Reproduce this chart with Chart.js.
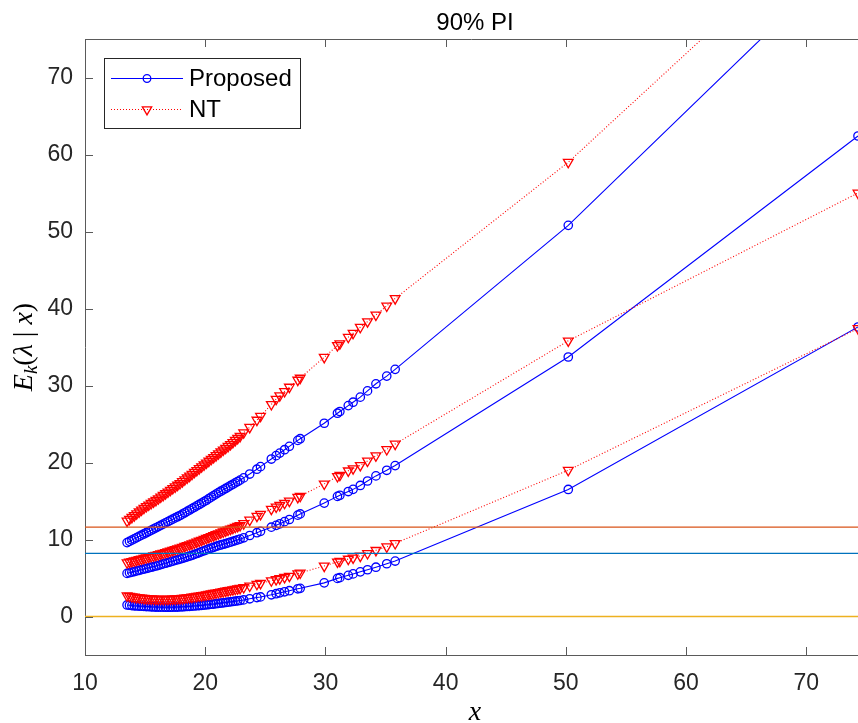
<!doctype html>
<html>
<head>
<meta charset="utf-8" />
<title>90% PI</title>
<script src="https://cdn.jsdelivr.net/npm/chart.js"></script>
<style>
  html, body { margin: 0; padding: 0; background: #fff; }
  canvas { display: block; }
</style>
</head>
<body>
<canvas id="chart" width="858" height="723"></canvas>
<script>
// x positions shared by all six curves
const xValues = [
  13.5, 13.7, 13.9, 14.1, 14.3, 14.5, 14.7, 14.9, 15.1, 15.3, 15.5, 15.7, 15.9, 16.1, 16.3, 16.5,
  16.7, 16.9, 17.1, 17.3, 17.5, 17.7, 17.9, 18.1, 18.3, 18.5, 18.7, 18.9, 19.1, 19.3, 19.5, 19.7,
  19.9, 20.1, 20.3, 20.5, 20.7, 20.9, 21.1, 21.3, 21.5, 21.7, 21.9, 22.1, 22.3, 22.5, 22.7, 22.9,
  23.2, 23.7, 24.3, 24.6, 25.5, 25.9, 26.2, 26.6, 27.0, 27.7, 27.9, 29.9, 31.0, 31.2, 31.9, 32.3,
  32.9, 33.5, 34.2, 35.1, 35.8, 50.2, 74.3
];

// Proposed (blue, solid, circles)
const proposedLow = [
  1.50, 1.46, 1.42, 1.39, 1.37, 1.35, 1.33, 1.31, 1.29, 1.28, 1.26, 1.24, 1.23, 1.22, 1.21, 1.21,
  1.20, 1.20, 1.20, 1.21, 1.22, 1.23, 1.25, 1.26, 1.28, 1.30, 1.32, 1.34, 1.37, 1.40, 1.42, 1.45,
  1.48, 1.52, 1.55, 1.59, 1.62, 1.66, 1.70, 1.74, 1.78, 1.82, 1.86, 1.90, 1.95, 1.99, 2.03, 2.08,
  2.15, 2.30, 2.46, 2.54, 2.82, 2.96, 3.07, 3.21, 3.35, 3.60, 3.66, 4.37, 4.95, 5.04, 5.35, 5.53,
  5.80, 6.07, 6.40, 6.85, 7.20, 16.5, 37.6
];
const proposedMid = [
  5.60, 5.68, 5.76, 5.84, 5.92, 6.00, 6.08, 6.16, 6.24, 6.32, 6.40, 6.48, 6.56, 6.65, 6.74, 6.83,
  6.92, 7.01, 7.10, 7.19, 7.28, 7.37, 7.46, 7.55, 7.65, 7.75, 7.85, 7.95, 8.06, 8.18, 8.30, 8.42,
  8.54, 8.66, 8.77, 8.88, 8.99, 9.10, 9.20, 9.29, 9.38, 9.47, 9.56, 9.65, 9.75, 9.85, 9.95, 10.05,
  10.22, 10.52, 10.88, 11.06, 11.60, 11.84, 12.04, 12.32, 12.60, 13.16, 13.32, 14.73, 15.60, 15.74, 16.23, 16.51,
  17.02, 17.60, 18.26, 18.99, 19.60, 33.7, 62.4
];
const proposedHigh = [
  9.60, 9.76, 9.92, 10.08, 10.24, 10.40, 10.56, 10.72, 10.88, 11.04, 11.20, 11.36, 11.52, 11.68, 11.84, 12.00,
  12.16, 12.32, 12.48, 12.64, 12.80, 12.96, 13.12, 13.29, 13.47, 13.65, 13.83, 14.01, 14.19, 14.37, 14.55, 14.73,
  14.91, 15.10, 15.30, 15.50, 15.70, 15.90, 16.09, 16.27, 16.45, 16.63, 16.81, 16.99, 17.17, 17.35, 17.53, 17.71,
  18.00, 18.50, 19.13, 19.46, 20.45, 20.89, 21.22, 21.66, 22.10, 22.87, 23.09, 25.10, 26.40, 26.62, 27.39, 27.83,
  28.49, 29.30, 30.22, 31.22, 32.10, 50.8, 87.2
];

// NT (red, dotted, down triangles)
const ntLow = [
  2.70, 2.64, 2.58, 2.53, 2.49, 2.45, 2.41, 2.37, 2.34, 2.32, 2.30, 2.28, 2.26, 2.25, 2.25, 2.25,
  2.25, 2.25, 2.26, 2.28, 2.30, 2.32, 2.34, 2.37, 2.41, 2.45, 2.49, 2.53, 2.58, 2.63, 2.68, 2.73,
  2.78, 2.83, 2.89, 2.95, 3.01, 3.07, 3.13, 3.19, 3.25, 3.31, 3.37, 3.43, 3.49, 3.55, 3.61, 3.67,
  3.78, 3.98, 4.20, 4.31, 4.65, 4.81, 4.93, 5.09, 5.25, 5.57, 5.66, 6.56, 7.10, 7.18, 7.46, 7.62,
  7.86, 8.20, 8.60, 9.06, 9.50, 19.0, 37.4
];
const ntMid = [
  7.00, 7.08, 7.16, 7.24, 7.32, 7.40, 7.48, 7.56, 7.64, 7.72, 7.80, 7.88, 7.96, 8.05, 8.14, 8.23,
  8.32, 8.41, 8.50, 8.60, 8.70, 8.80, 8.90, 9.01, 9.12, 9.23, 9.34, 9.45, 9.56, 9.68, 9.80, 9.92,
  10.04, 10.16, 10.28, 10.40, 10.52, 10.64, 10.76, 10.88, 11.00, 11.12, 11.24, 11.36, 11.48, 11.60, 11.72, 11.84,
  12.08, 12.53, 13.04, 13.28, 13.95, 14.23, 14.44, 14.72, 15.00, 15.49, 15.63, 17.22, 18.20, 18.36, 18.92, 19.21,
  19.63, 20.20, 20.88, 21.70, 22.40, 35.8, 55.0
];
const ntHigh = [
  12.40, 12.64, 12.88, 13.12, 13.36, 13.60, 13.84, 14.08, 14.30, 14.50, 14.70, 14.90, 15.10, 15.31, 15.53, 15.75,
  15.97, 16.19, 16.41, 16.63, 16.85, 17.07, 17.29, 17.53, 17.77, 18.01, 18.25, 18.49, 18.74, 18.98, 19.22, 19.46,
  19.70, 19.95, 20.19, 20.43, 20.67, 20.91, 21.15, 21.39, 21.63, 21.87, 22.11, 22.36, 22.62, 22.88, 23.14, 23.40,
  23.88, 24.58, 25.51, 26.02, 27.55, 28.23, 28.68, 29.24, 29.80, 30.71, 30.97, 33.67, 35.20, 35.44, 36.28, 36.79,
  37.57, 38.30, 39.16, 40.34, 41.30, 59.0, 93.7
];

// horizontal reference levels
const refLevels = [11.6, 8.2, 0];

const seriesNames = ["Proposed", "NT"];
const titleText = "90% PI";
const xRange = [10, 74.3];
const yRange = [-5, 75];
const xTicks = [10, 20, 30, 40, 50, 60, 70];
const yTicks = [0, 10, 20, 30, 40, 50, 60, 70];

const BLUE = "#0000FF";
const RED = "#FF0000";
const AXIS = "#5a5a5a";
const refColors = ["#D95319", "#0072BD", "#EDB120"];

function pts(ys) {
  return xValues.map((x, i) => ({ x: x, y: ys[i] }));
}

function proposedSet(ys) {
  return {
    data: pts(ys),
    borderColor: BLUE,
    borderWidth: 1.1,
    pointStyle: "circle",
    pointRadius: 4.2,
    pointBorderWidth: 1.3,
    pointBorderColor: BLUE,
    pointBackgroundColor: "rgba(0,0,0,0)",
    tension: 0,
    order: 2,
  };
}

function ntSet(ys) {
  return {
    data: pts(ys),
    borderColor: RED,
    borderWidth: 1.1,
    borderDash: [1, 2],
    pointStyle: "triangle",
    pointRotation: 180,
    pointRadius: 5.6,
    pointBorderWidth: 1.3,
    pointBorderColor: RED,
    pointBackgroundColor: "rgba(0,0,0,0)",
    tension: 0,
    order: 1,
  };
}

const refSets = refLevels.map((v, i) => ({
  data: [{ x: xRange[0], y: v }, { x: xRange[1], y: v }],
  borderColor: refColors[i],
  borderWidth: 1.3,
  pointRadius: 0,
  order: 0,
}));

// MATLAB-ish frame: inward ticks, top box line, title, axis labels, legend box
const matlabFrame = {
  id: "matlabFrame",
  afterDatasetsDraw(chart) {
    const { ctx, chartArea: a, scales } = chart;
    ctx.save();
    ctx.strokeStyle = AXIS;
    ctx.lineWidth = 1;
    ctx.beginPath();
    ctx.moveTo(a.left, a.top + 0.5);
    ctx.lineTo(a.right, a.top + 0.5);
    xTicks.forEach((v) => {
      const px = Math.round(scales.x.getPixelForValue(v)) + 0.5;
      ctx.moveTo(px, a.bottom);
      ctx.lineTo(px, a.bottom - 8);
      ctx.moveTo(px, a.top);
      ctx.lineTo(px, a.top + 8);
    });
    yTicks.forEach((v) => {
      const py = Math.round(scales.y.getPixelForValue(v)) + 0.5;
      ctx.moveTo(a.left, py);
      ctx.lineTo(a.left + 8, py);
    });
    ctx.stroke();
    ctx.restore();
  },
  afterDraw(chart) {
    const { ctx, chartArea: a } = chart;
    const cx = 475;
    ctx.save();

    // title
    ctx.fillStyle = "#000";
    ctx.font = '24px "Liberation Sans", Arial, sans-serif';
    ctx.textAlign = "center";
    ctx.textBaseline = "alphabetic";
    ctx.fillText(titleText, cx, 30);

    // x label
    ctx.font = 'italic 28px "Liberation Serif", serif';
    ctx.fillText("x", cx, 720);

    // y label: E_k(λ | x), rotated
    const parts = [
      { t: "E", f: 'italic 28px "Liberation Serif", serif', dy: 0 },
      { t: "k", f: 'italic 19px "Liberation Serif", serif', dy: 5 },
      { t: "(", f: '28px "Liberation Serif", serif', dy: 0 },
      { t: "λ", f: 'italic 28px "Liberation Serif", serif', dy: 0 },
      { t: " | ", f: '28px "Liberation Serif", serif', dy: 0 },
      { t: "x", f: 'italic 28px "Liberation Serif", serif', dy: 0 },
      { t: ")", f: '28px "Liberation Serif", serif', dy: 0 },
    ];
    let total = 0;
    parts.forEach((p) => { ctx.font = p.f; p.w = ctx.measureText(p.t).width; total += p.w; });
    ctx.translate(32, (a.top + a.bottom) / 2);
    ctx.rotate(-Math.PI / 2);
    ctx.textAlign = "left";
    let px = -total / 2;
    parts.forEach((p) => { ctx.font = p.f; ctx.fillText(p.t, px, p.dy); px += p.w; });
    ctx.setTransform(1, 0, 0, 1, 0, 0);

    // legend
    const lx = 104, ly = 58, lw = 196, lh = 70;
    ctx.fillStyle = "#fff";
    ctx.fillRect(lx, ly, lw, lh);
    ctx.strokeStyle = "#262626";
    ctx.lineWidth = 1;
    ctx.strokeRect(lx + 0.5, ly + 0.5, lw, lh);
    const rows = [
      { label: seriesNames[0], color: BLUE, dash: [], style: "circle", r: 3.8, rot: 0, y: 78 },
      { label: seriesNames[1], color: RED, dash: [1, 2], style: "triangle", r: 5.4, rot: 180, y: 109 },
    ];
    rows.forEach((row) => {
      ctx.strokeStyle = row.color;
      ctx.lineWidth = 1;
      ctx.setLineDash(row.dash);
      ctx.beginPath();
      ctx.moveTo(111, row.y + 0.5);
      ctx.lineTo(183, row.y + 0.5);
      ctx.stroke();
      ctx.setLineDash([]);
      ctx.fillStyle = "rgba(0,0,0,0)";
      ctx.lineWidth = 1.3;
      Chart.helpers.drawPoint(ctx, { pointStyle: row.style, radius: row.r, rotation: row.rot, borderWidth: 1.3 }, 147, row.y + 0.5);
      ctx.fillStyle = "#000";
      ctx.font = '24px "Liberation Sans", Arial, sans-serif';
      ctx.textAlign = "left";
      ctx.textBaseline = "middle";
      ctx.fillText(row.label, 189, row.y + 1);
    });
    ctx.restore();
  },
};

const tickFont = { family: '"Liberation Sans", Arial, sans-serif', size: 23 };

new Chart(document.getElementById("chart"), {
  type: "line",
  data: {
    datasets: [
      proposedSet(proposedLow),
      proposedSet(proposedMid),
      proposedSet(proposedHigh),
      ntSet(ntLow),
      ntSet(ntMid),
      ntSet(ntHigh),
    ].concat(refSets),
  },
  options: {
    responsive: false,
    animation: false,
    devicePixelRatio: 1,
    events: [],
    layout: { autoPadding: false, padding: { top: 39, left: 0, right: 0, bottom: 0 } },
    plugins: { legend: { display: false }, title: { display: false }, tooltip: { enabled: false } },
    scales: {
      x: {
        type: "linear",
        min: xRange[0],
        max: xRange[1],
        afterBuildTicks: (s) => { s.ticks = xTicks.map((v) => ({ value: v })); },
        afterFit: (s) => { s.height = 68; },
        grid: { display: false, drawTicks: false },
        border: { display: true, color: AXIS, width: 1 },
        ticks: { font: tickFont, color: "#262626", padding: 15, maxRotation: 0 },
      },
      y: {
        type: "linear",
        min: yRange[0],
        max: yRange[1],
        afterBuildTicks: (s) => { s.ticks = yTicks.map((v) => ({ value: v })); },
        afterFit: (s) => { s.width = 85; },
        grid: { display: false, drawTicks: false },
        border: { display: true, color: AXIS, width: 1 },
        ticks: { font: tickFont, color: "#262626", padding: 12 },
      },
    },
  },
  plugins: [matlabFrame],
});
</script>
</body>
</html>
